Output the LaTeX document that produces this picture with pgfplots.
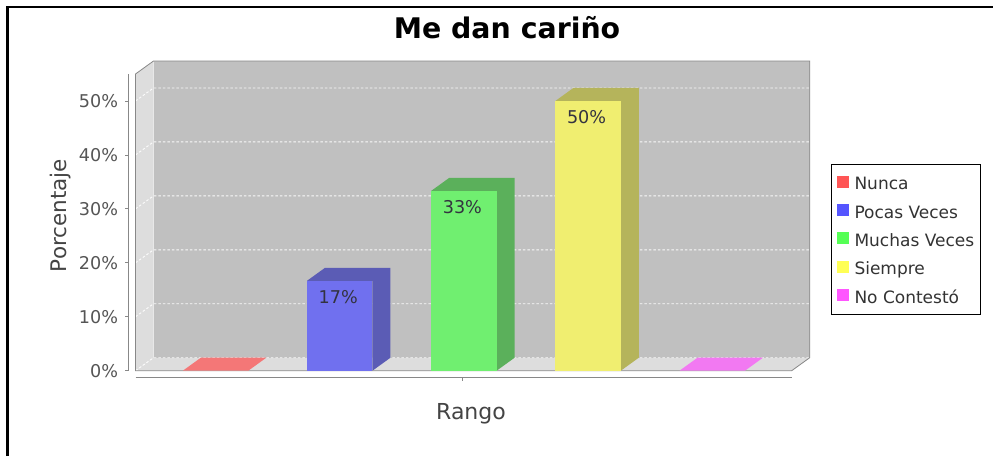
\documentclass[border=0pt]{standalone}
\usepackage{pgfplots}
\pgfplotsset{compat=1.18}
\usepackage{fontspec}
\setmainfont{DejaVu Sans}
\definecolor{wallback}{HTML}{C0C0C0}
\definecolor{wallside}{HTML}{DDDDDD}
\definecolor{edge}{HTML}{888888}
\definecolor{ticklab}{HTML}{555555}
\definecolor{labgray}{HTML}{444444}
\definecolor{legtext}{HTML}{333333}
\definecolor{bartext}{HTML}{333340}
\definecolor{legred}{HTML}{FF5555}
\definecolor{legblue}{HTML}{5555FF}
\definecolor{leggreen}{HTML}{55FF55}
\definecolor{legyellow}{HTML}{FFFF55}
\definecolor{legmagenta}{HTML}{FF55FF}
\definecolor{redflat}{HTML}{F47777}
\definecolor{magflat}{HTML}{F279F2}
\definecolor{bluefront}{HTML}{7070EF}
\definecolor{bluedark}{HTML}{5B5CB5}
\definecolor{greenfront}{HTML}{70EF70}
\definecolor{greendark}{HTML}{5BB05B}
\definecolor{yellowfront}{HTML}{F0EE70}
\definecolor{yellowdark}{HTML}{B5B45B}
\begin{document}
\begin{tikzpicture}[x=1pt,y=1pt]
\useasboundingbox (0,0) rectangle (993,456);
\fill[white] (0,0) rectangle (993,456);
\draw[black,line width=2.2pt] (7.5,0) -- (7.5,449) -- (993,449);
\node[anchor=base, font=\fontsize{28.4}{30}\selectfont\bfseries] at (507,417.7) {Me dan cariño};
\begin{axis}[
  at={(135.5pt,85.3pt)}, anchor=south west,
  scale only axis, width=656.2pt, height=296.7pt,
  xmin=-0.645, xmax=4.64, ymin=0, ymax=55,
  clip=false,
  axis line style={draw=none},
  tick style={draw=none},
  xtick=\empty,
  ytick={0,10,20,30,40,50},
  yticklabels={0\%,10\%,20\%,30\%,40\%,50\%},
  yticklabel style={anchor=east, inner sep=0pt, xshift=-17.2pt, font=\fontsize{17.6}{18}\selectfont, text=ticklab},
  /pgf/number format/assume math mode=true,
  legend image code/.code={\fill[#1] (0pt,-5pt) rectangle (12pt,7pt);},
  legend cell align=left,
  legend style={at={(1.0599,0.6967)}, anchor=north west, draw=black, line width=1pt,
    font=\fontsize{17}{17}\selectfont, text=legtext,
    inner xsep=5pt, inner ysep=9.5pt, row sep=10.6pt,
    nodes={inner sep=1pt, text height=15pt, text depth=0.7pt},
    /tikz/every odd column/.append style={column sep=5pt}},
]
% walls
\fill[wallside] (axis cs:-0.645,0) -- (axis cs:-0.5,2.41) -- (axis cs:-0.5,57.41) -- (axis cs:-0.645,55) -- cycle;
\fill[wallside] (axis cs:-0.645,0) -- (axis cs:4.64,0) -- (axis cs:4.785,2.41) -- (axis cs:-0.5,2.41) -- cycle;
\fill[wallback] (axis cs:-0.5,2.41) rectangle (axis cs:4.785,57.41);
\pgfplotsinvokeforeach{0,10,20,30,40,50}{
  \draw[white, opacity=0.9, line width=0.9pt, dash pattern=on 2.5pt off 2pt] (axis cs:-0.645,#1) -- ([shift={(18pt,13pt)}]axis cs:-0.645,#1) -- ([shift={(18pt,13pt)}]axis cs:4.64,#1);
}
\draw[edge, line width=0.8pt] (axis cs:-0.645,0) -- (axis cs:-0.645,55) -- (axis cs:-0.5,57.41) -- (axis cs:4.785,57.41) -- (axis cs:4.785,2.41) -- (axis cs:4.64,0) -- cycle;
% value axis
\draw[edge, line width=0.8pt] ([xshift=-7.2pt]axis cs:-0.645,0) -- ([xshift=-7.2pt]axis cs:-0.645,55);
\pgfplotsinvokeforeach{0,10,20,30,40,50}{
  \draw[edge, line width=0.8pt] ([xshift=-7.2pt]axis cs:-0.645,#1) -- ([xshift=-10.5pt]axis cs:-0.645,#1);
}
% category axis
\draw[edge, line width=0.8pt] ([yshift=-7pt]axis cs:-0.645,0) -- ([yshift=-7pt]axis cs:4.64,0);
\draw[edge, line width=0.8pt] ([yshift=-7pt]axis cs:1.985,0) -- ([yshift=-10.5pt]axis cs:1.985,0);
% Nunca (0)
\addplot[fill=redflat, draw=none, forget plot] coordinates {(-0.2635,0) (-0.1185,2.41) (0.4085,2.41) (0.2635,0)};
% Pocas Veces (16.667)
\addplot[fill=bluedark, draw=none, forget plot] coordinates {(0.7365,16.667) (0.8815,19.077) (1.4085,19.077) (1.4085,2.41) (1.2635,0) (1.2635,16.667)};
\addplot[ybar, bar width=0.527, bar shift=0pt, fill=bluefront, draw=none, forget plot,
  point meta=y, nodes near coords={\pgfmathprintnumber[fixed,precision=0]{\pgfplotspointmeta}\%},
  every node near coord/.append style={anchor=center, yshift=-16.3pt, xshift=-1.5pt, font=\fontsize{17.6}{18}\selectfont, text=bartext}]
  coordinates {(1,16.667)};
% Muchas Veces (33.333)
\addplot[fill=greendark, draw=none, forget plot] coordinates {(1.7365,33.333) (1.8815,35.743) (2.4085,35.743) (2.4085,2.41) (2.2635,0) (2.2635,33.333)};
\addplot[ybar, bar width=0.527, bar shift=0pt, fill=greenfront, draw=none, forget plot,
  point meta=y, nodes near coords={\pgfmathprintnumber[fixed,precision=0]{\pgfplotspointmeta}\%},
  every node near coord/.append style={anchor=center, yshift=-16.3pt, xshift=-1.5pt, font=\fontsize{17.6}{18}\selectfont, text=bartext}]
  coordinates {(2,33.333)};
% Siempre (50)
\addplot[fill=yellowdark, draw=none, forget plot] coordinates {(2.7365,50) (2.8815,52.41) (3.4085,52.41) (3.4085,2.41) (3.2635,0) (3.2635,50)};
\addplot[ybar, bar width=0.527, bar shift=0pt, fill=yellowfront, draw=none, forget plot,
  point meta=y, nodes near coords={\pgfmathprintnumber[fixed,precision=0]{\pgfplotspointmeta}\%},
  every node near coord/.append style={anchor=center, yshift=-16.3pt, xshift=-1.5pt, font=\fontsize{17.6}{18}\selectfont, text=bartext}]
  coordinates {(3,50)};
% No Contestó (0)
\addplot[fill=magflat, draw=none, forget plot] coordinates {(3.7365,0) (3.8815,2.41) (4.4085,2.41) (4.2635,0)};
% legend
\addlegendimage{fill=legred, draw=none}
\addlegendentry{Nunca}
\addlegendimage{fill=legblue, draw=none}
\addlegendentry{Pocas Veces}
\addlegendimage{fill=leggreen, draw=none}
\addlegendentry{Muchas Veces}
\addlegendimage{fill=legyellow, draw=none}
\addlegendentry{Siempre}
\addlegendimage{fill=legmagenta, draw=none}
\addlegendentry{No Contestó}
\end{axis}
\node[rotate=90, anchor=base, font=\fontsize{21.5}{22}\selectfont, text=labgray] at (66.7,240.5) {Porcentaje};
\node[anchor=base, font=\fontsize{22}{22}\selectfont, text=labgray] at (471,36.7) {Rango};
\end{tikzpicture}
\end{document}
